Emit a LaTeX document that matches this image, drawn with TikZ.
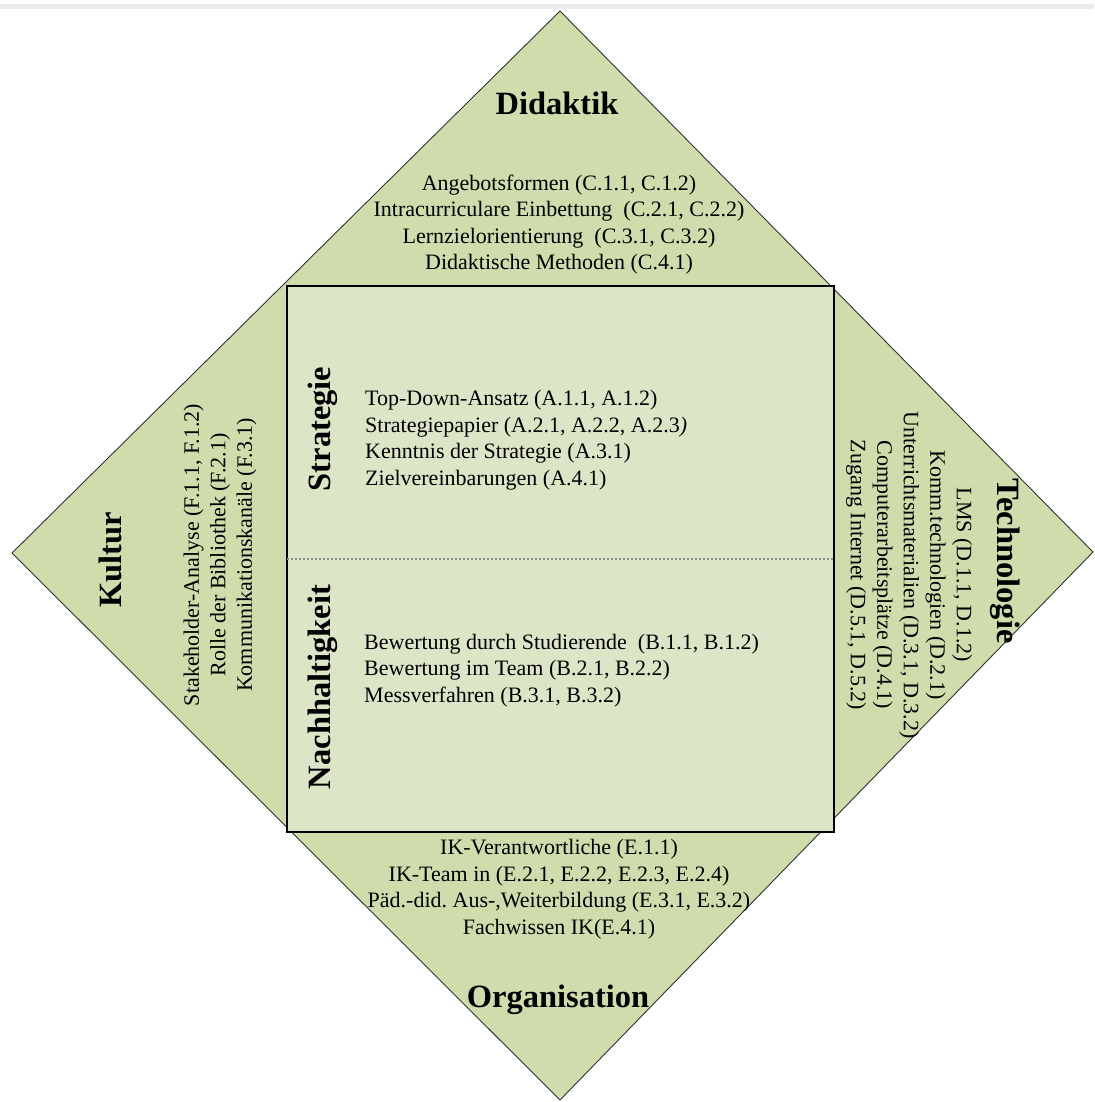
\documentclass[tikz,border=0pt]{standalone}
\usepackage{fontspec}
\setmainfont{Liberation Serif}
\frenchspacing
\definecolor{outergreen}{HTML}{CFDCAB}
\definecolor{innergreen}{HTML}{DDE5C7}
\definecolor{bandgray}{HTML}{EBEBEB}
\tikzset{
  title/.style={font=\fontsize{32.5}{38}\selectfont\bfseries, inner sep=0pt},
  items/.style={font=\fontsize{22}{26.5}\selectfont, inner sep=0pt},
}
\begin{document}
\begin{tikzpicture}[x=1pt,y=-1pt]
\useasboundingbox (0,0) rectangle (1094,1102);
\fill[bandgray] (0,4) rectangle (1094,9);
% diamond
\coordinate (dt) at (560,11);
\coordinate (dr) at (1093,552);
\coordinate (db) at (560,1100);
\coordinate (dl) at (12,553);
\draw[fill=outergreen, draw=black!80, line width=0.9pt, line join=miter] (dt) -- (dr) -- (db) -- (dl) -- cycle;
% core rectangle
\node[draw=black, line width=1.4pt, fill=innergreen, minimum width=547, minimum height=546, inner sep=0pt] (core) at (560.5,559) {};
\draw[black!45, line width=2.6pt, dash pattern=on 2pt off 2pt] ([xshift=1pt]core.west) -- ([xshift=-1pt]core.east);
% Didaktik
\node[title, anchor=base] (did) at (557,115) {Didaktik};
\node[items, align=center] (didi) at (559,224.5) {Angebotsformen (C.1.1, C.1.2)\\
Intracurriculare Einbettung~ (C.2.1, C.2.2)\\
Lernzielorientierung~ (C.3.1, C.3.2)\\
Didaktische Methoden (C.4.1)};
% Strategie
\node[title, rotate=90] (str) at (323,429) {Strategie};
\node[items, align=left, anchor=west] (stri) at (365,440) {Top-Down-Ansatz (A.1.1, A.1.2)\\
Strategiepapier (A.2.1, A.2.2, A.2.3\textit{)}\\
Kenntnis der Strategie (A.3.1)\\
Zielvereinbarungen (A.4.1)};
% Nachhaltigkeit
\node[title, rotate=90] (nach) at (323,687) {Nachhaltigkeit};
\node[items, align=left, anchor=west] (nachi) at (364,670.5) {Bewertung durch Studierende~ (B.1.1, B.1.2)\\
Bewertung im Team (B.2.1, B.2.2)\\
Messverfahren (B.3.1, B.3.2)};
% Kultur
\node[title, rotate=90] (kul) at (110,560) {Kultur};
\node[items, align=center, rotate=90] (kuli) at (220,555) {Stakeholder-Analyse (F.1.1, F.1.2)\\
Rolle der Bibliothek (F.2.1)\\
Kommunikationskanäle (F.3.1)};
% Technologie
\node[title, rotate=-90] (tech) at (1005,561) {Technologie};
\node[items, align=center, rotate=-90] (techi) at (909,575) {LMS (D.1.1, D.1.2)\\
Komm.technologien (D.2.1)\\
Unterrichtsmaterialien (D.3.1, D.3.2)\\
Computerarbeitsplätze (D.4.1)\\
Zugang Internet (D.5.1, D.5.2)};
% Organisation
\node[items, align=center] (orgi) at (559,889) {IK-Verantwortliche (E.1.1)\\
IK-Team in (E.2.1, E.2.2, E.2.3, E.2.4)\\
Päd.-did. Aus-,Weiterbildung (E.3.1, E.3.2)\\
Fachwissen IK(E.4.1)};
\node[title, anchor=base] (org) at (558,1007) {Organisation};
\end{tikzpicture}
\end{document}
